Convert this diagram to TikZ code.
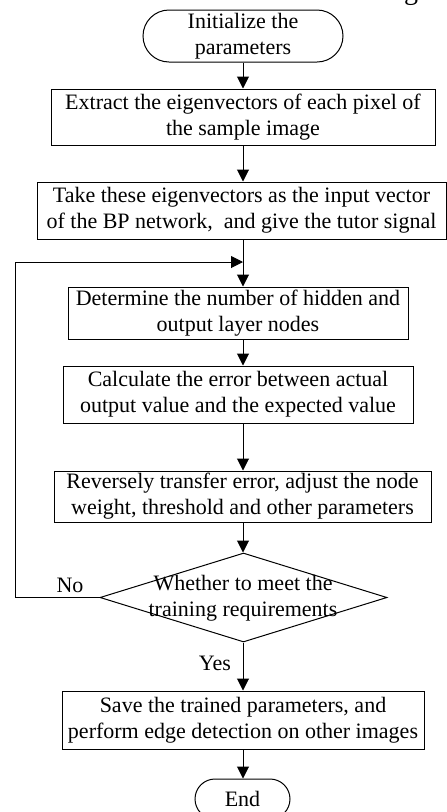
\documentclass[tikz,border=0pt]{standalone}
\usepackage{fontspec}
\setmainfont{Liberation Serif}
\usetikzlibrary{arrows.meta,shapes.geometric,shapes.misc}

\begin{document}
\begin{tikzpicture}[x=1pt,y=-1pt,
  line width=1pt,
  every node/.style={font=\fontsize{22}{26}\selectfont, inner sep=0pt},
  stepbox/.style={draw, rectangle, align=center},
  terminal/.style={draw, rounded rectangle, align=center},
  decision/.style={draw, diamond},
  flow/.style={-{Triangle[length=12pt,width=12pt]}},
  tag/.style={font=\fontsize{22}{26}\selectfont}
]
\useasboundingbox (0,0) rectangle (447,812);
\clip (0,0) rectangle (447,812);
\fill[white] (0,0) rectangle (447,812);

% descender of the caption line above the chart
\node[anchor=base, font=\fontsize{28}{30}\selectfont] (cap) at (411,-1) {g};

% vertical spine of the flow
\coordinate (spine) at (243,0);

\node[terminal, minimum width=200, minimum height=52] (start) at (243,36)
  {Initialize the\\parameters};
\node[stepbox, minimum width=384, minimum height=56] (s1) at (243,117)
  {Extract the eigenvectors of each pixel of\\the sample image};
\node[stepbox, minimum width=409, minimum height=57] (s2) at (241.5,210.5)
  {Take these eigenvectors as the input vector\\of the BP network,\ \ and give the tutor signal};
\node[stepbox, minimum width=340, minimum height=52] (s3) at (238,313)
  {Determine the number of hidden and\\output layer nodes};
\node[stepbox, minimum width=350, minimum height=57] (s4) at (238,394.5)
  {Calculate the error between actual\\output value and the expected value};
\node[stepbox, minimum width=377, minimum height=51] (s5) at (242.5,496.5)
  {Reversely transfer error, adjust the node\\weight, threshold and other parameters};
\node[decision, minimum width=287, minimum height=89] (dec) at (243.5,597.5) {};
\node[align=center] (dectext) at (243,598)
  {Whether to meet the\\training requirements};
\node[stepbox, minimum width=362, minimum height=58] (s6) at (243,720)
  {Save the trained parameters, and\\perform edge detection on other images};
\node[terminal, minimum width=95, minimum height=40] (stop) at (242.5,799) {End};

% loop-back join point and left rail
\coordinate (join) at (243,262);
\coordinate (rail) at (15,0);

\draw[flow] (start.south -| spine) -- (s1.north -| spine);
\draw[flow] (s1.south -| spine) -- (s2.north -| spine);
\draw[flow] (s2.south -| spine) -- (s3.north -| spine);
\draw[flow] (s3.south -| spine) -- (s4.north -| spine);
\draw[flow] (s4.south -| spine) -- (s5.north -| spine);
\draw[flow] (s5.south -| spine) -- (dec.north -| spine);
\draw[flow] (dec.south -| spine) -- (s6.north -| spine);
\draw[flow] (s6.south -| spine) -- (stop.north -| spine);

\draw[flow] (dec.west) -- (dec.west -| rail) |- (join);

\node[tag] (no) at (70,585) {No};
\node[tag] (yes) at (215,663) {Yes};
\end{tikzpicture}
\end{document}
